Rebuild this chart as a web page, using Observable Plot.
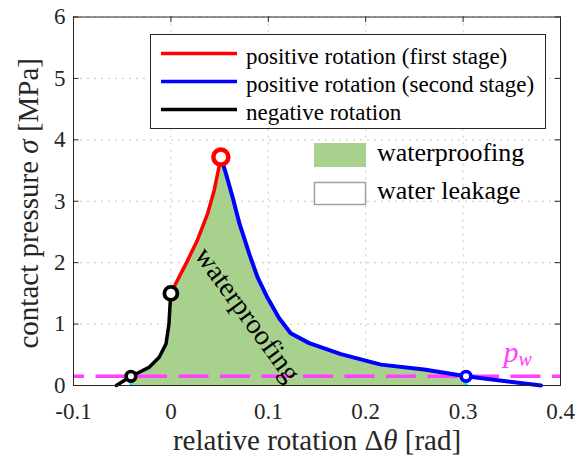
<!DOCTYPE html>
<html><head><meta charset="utf-8">
<script src="https://cdn.jsdelivr.net/npm/d3@7"></script>
<script src="https://cdn.jsdelivr.net/npm/@observablehq/plot@0.6"></script>
<style>html,body{margin:0;padding:0;background:#fff;} svg{display:block}</style>
</head><body><div id="chart"></div>
<script>
// ---- data ----
const xTicks = [-0.1, 0, 0.1, 0.2, 0.3, 0.4];
const yTicks = [0, 1, 2, 3, 4, 5, 6];
const negX  = [-0.056, -0.041, -0.032, -0.022, -0.012, -0.005, -0.002, -0.001, 0];
const negY  = [0, 0.15, 0.22, 0.30, 0.46, 0.68, 1.00, 1.28, 1.50];
const pos1X = [0, 0.005, 0.0154, 0.027, 0.0377, 0.0445, 0.0486, 0.0513];
const pos1Y = [1.50, 1.66, 1.98, 2.36, 2.80, 3.18, 3.50, 3.72];
const pos2X = [0.0513, 0.0565, 0.0633, 0.0705, 0.081, 0.089, 0.0985, 0.111, 0.123, 0.142, 0.1745, 0.2156, 0.26, 0.303, 0.38];
const pos2Y = [3.72, 3.45, 3.07, 2.63, 2.12, 1.76, 1.45, 1.10, 0.85, 0.69, 0.51, 0.34, 0.26, 0.15, 0.0];
const pw = 0.15;
const sealStart = -0.041, sealEnd = 0.303;
const peakPt = {x: 0.0513, y: 3.72};
const switchPt = {x: 0, y: 1.5};
const seriesNames = ["positive rotation (first stage)", "positive rotation (second stage)", "negative rotation"];
const seriesColors = ["#ff0000", "#0000ff", "#000000"];
const areaNames = ["waterproofing", "water leakage"];
const areaLabel = {x: 0.0787, y: 1.156, text: "waterproofing"};
const pwLabel = {x: 0.3415, y: 0.375, text: "pw"};
const xLabel = "relative rotation Δθ [rad]";
const yLabel = "contact pressure σ [MPa]";

const toPts = (X, Y) => X.map((x, i) => ({x, y: Y[i]}));
const neg = toPts(negX, negY), pos1 = toPts(pos1X, pos1Y), pos2 = toPts(pos2X, pos2Y);
const fillPts = [...neg.filter(d => d.x >= sealStart), ...pos1.slice(1), ...pos2.slice(1).filter(d => d.x <= sealEnd)];

const green = "#a9d18e", magenta = "#ff40ff", cyan = "#00e5ee", axisCol = "#262626";
const serif = "'Liberation Serif', serif";
const W = 587, H = 458, mL = 73, mR = 27, mT = 16.5, mB = 73;
const fw = W - mL - mR, fh = H - mT - mB, tk = 5.5;

const plot = Plot.plot({
  width: W, height: H, marginLeft: mL, marginRight: mR, marginTop: mT, marginBottom: mB,
  style: {fontFamily: serif, fontSize: "22px", background: "white", color: axisCol},
  x: {domain: [-0.1, 0.4], ticks: xTicks, tickSize: 0, tickPadding: 17, tickFormat: d => String(d), label: null},
  y: {domain: [0, 6], ticks: yTicks, tickSize: 0, tickPadding: 8, tickFormat: d => String(d), label: null},
  marks: [
    Plot.ruleX(xTicks, {x: d => d, stroke: "#c4c4c4", strokeDasharray: "2,5"}),
    Plot.ruleY(yTicks, {y: d => d, stroke: "#c4c4c4", strokeDasharray: "2,5"}),
    Plot.ruleX(xTicks, {x: d => d, stroke: axisCol, insetTop: fh - tk}),
    Plot.ruleX(xTicks, {x: d => d, stroke: axisCol, insetBottom: fh - tk}),
    Plot.ruleY(yTicks, {y: d => d, stroke: axisCol, insetRight: fw - tk}),
    Plot.ruleY(yTicks, {y: d => d, stroke: axisCol, insetLeft: fw - tk}),
    Plot.areaY(fillPts, {x: "x", y1: 0, y2: "y", fill: green}),
    Plot.ruleX([sealStart, sealEnd], {x: d => d, y1: 0, y2: pw, stroke: cyan, strokeWidth: 3}),
    Plot.ruleY([pw], {y: d => d, stroke: magenta, strokeWidth: 3.5, strokeDasharray: "30,11.5", strokeDashoffset: 19}),
    Plot.line(neg, {x: "x", y: "y", stroke: seriesColors[2], strokeWidth: 3.5}),
    Plot.line(pos1, {x: "x", y: "y", stroke: seriesColors[0], strokeWidth: 3.5}),
    Plot.line(pos2, {x: "x", y: "y", stroke: seriesColors[1], strokeWidth: 4}),
    Plot.dot([peakPt], {x: "x", y: "y", r: 7.5, stroke: seriesColors[0], strokeWidth: 4.5, fill: "white"}),
    Plot.dot([switchPt], {x: "x", y: "y", r: 6.5, stroke: seriesColors[2], strokeWidth: 3.8, fill: "white"}),
    Plot.dot([{x: sealStart, y: pw}], {x: "x", y: "y", r: 4.8, stroke: seriesColors[2], strokeWidth: 3.6, fill: "white"}),
    Plot.dot([{x: sealEnd, y: pw}], {x: "x", y: "y", r: 4.8, stroke: seriesColors[1], strokeWidth: 3.6, fill: "white"}),
    Plot.frame({stroke: axisCol}),
    Plot.text([areaLabel], {x: "x", y: "y", text: "text", rotate: 54, fontSize: 28, fill: "black", textAnchor: "middle", lineAnchor: "middle"}),
    Plot.text([pwLabel], {x: "x", y: "y", text: "text", fontSize: 30, fill: magenta, textAnchor: "start", lineAnchor: "bottom"}),
    Plot.text([xLabel], {frameAnchor: "bottom", text: d => d, fontSize: 29, fill: axisCol, textAnchor: "middle", lineAnchor: "bottom", dy: 64}),
    Plot.text([yLabel], {frameAnchor: "left", text: d => d, fontSize: 29, fill: axisCol, textAnchor: "middle", lineAnchor: "bottom", rotate: -90, dx: -36, dy: 2})
  ]
});
document.getElementById("chart").appendChild(plot);

const svg = d3.select(plot);
// tick labels: serif, larger
const tickStrings = new Set([...xTicks, ...yTicks].map(String));
svg.selectAll("g").filter(function() { return (this.getAttribute("aria-label") || "").includes("axis"); })
  .attr("font-family", serif).attr("font-size", 23).style("font-family", serif).style("font-size", "23px");
svg.selectAll("text").filter(function() { return tickStrings.has(this.textContent) && this.childElementCount === 0; })
  .attr("font-family", serif).attr("font-size", 23).style("font-family", serif).style("font-size", "23px");
// italic math parts
function mathify(full, before, sym, after) {
  svg.selectAll("text").filter(function() { return this.textContent === full; }).each(function() {
    const t = d3.select(this); t.text(null);
    t.append("tspan").text(before);
    t.append("tspan").attr("font-style", "italic").text(sym);
    t.append("tspan").text(after);
  });
}
mathify(xLabel, "relative rotation Δ", "θ", " [rad]");
mathify(yLabel, "contact pressure ", "σ", " [MPa]");
svg.selectAll("text").filter(function() { return this.textContent === "pw"; }).each(function() {
  const t = d3.select(this); t.text(null).attr("font-style", "italic");
  t.append("tspan").text("p");
  t.append("tspan").attr("font-size", 20).attr("dy", 4).text("w");
});

// legends
const lg = svg.append("g").attr("font-family", serif).attr("text-anchor", "start");
lg.append("rect").attr("x", 150.5).attr("y", 34.5).attr("width", 395).attr("height", 94)
  .attr("fill", "white").attr("stroke", axisCol).attr("stroke-width", 1);
seriesNames.forEach((name, i) => {
  const y = 53.5 + i * 28;
  lg.append("line").attr("x1", 161).attr("x2", 237).attr("y1", y).attr("y2", y)
    .attr("stroke", seriesColors[i]).attr("stroke-width", 3.5);
  lg.append("text").attr("x", 246).attr("y", y + 10.5).attr("font-size", 23).attr("fill", "black").text(name);
});
lg.append("rect").attr("x", 314).attr("y", 143).attr("width", 52).attr("height", 24).attr("fill", green);
lg.append("rect").attr("x", 314.5).attr("y", 182.5).attr("width", 51).attr("height", 22)
  .attr("fill", "white").attr("stroke", "#a0a0a0").attr("stroke-width", 1.5);
areaNames.forEach((name, i) => {
  lg.append("text").attr("x", 377).attr("y", 160.7 + i * 38.6).attr("font-size", 26).attr("fill", "black").text(name);
});
</script>
</body></html>
